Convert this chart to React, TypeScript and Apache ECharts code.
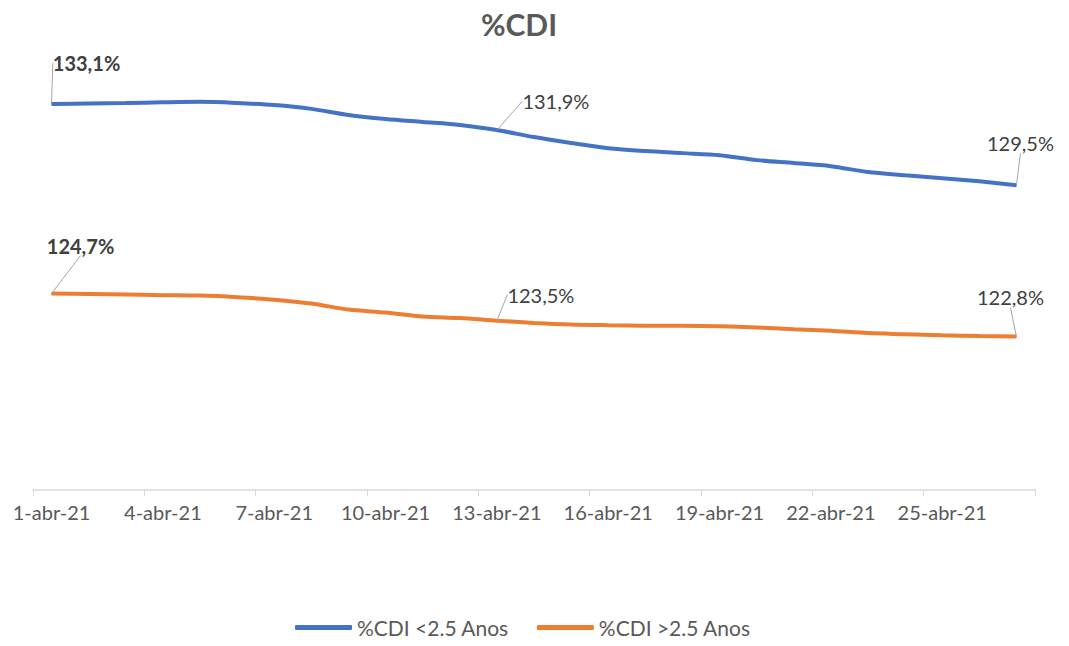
import React, { useEffect, useRef } from "react";
import * as echarts from "echarts";

const days: string[] = Array.from({ length: 27 }, (_, i) => `${i + 1}-abr-21`);

const shortTermName = "%CDI <2.5 Anos";
const longTermName = "%CDI >2.5 Anos";

const shortTerm: number[] = [
  133.1, 133.12, 133.14, 133.17, 133.19, 133.14, 133.05, 132.88, 132.61,
  132.43, 132.3, 132.17, 131.94, 131.63, 131.37, 131.14, 131.01, 130.92,
  130.83, 130.61, 130.48, 130.34, 130.08, 129.94, 129.81, 129.67, 129.5,
];

const longTerm: number[] = [
  124.7, 124.68, 124.66, 124.63, 124.61, 124.54, 124.43, 124.26, 123.99,
  123.86, 123.68, 123.62, 123.5, 123.4, 123.33, 123.3, 123.28, 123.27,
  123.25, 123.2, 123.12, 123.05, 122.95, 122.9, 122.85, 122.82, 122.8,
];

const labelledIdx: number[] = [0, 12, 26];

const fmt = (v: number) => v.toFixed(1).replace(".", ",") + "%";

export default function App() {
  const ref = useRef<HTMLDivElement>(null);
  useEffect(() => {
    if (!ref.current) return;
    const chart = echarts.init(ref.current, null, { renderer: "svg" });
    const textColor = "#595959";
    const font = "Lato";

    const mkData = (vals: number[]) =>
      vals.map((v, i) =>
        labelledIdx.includes(i)
          ? {
              value: v,
              label: {
                show: true,
                fontWeight: i === 0 ? "bold" : "normal",
              },
            }
          : v
      );

    const shortOffsets: Record<number, [number, number]> = {
      0: [35, -41],
      12: [59, -29],
      26: [4, -42],
    };
    const longOffsets: Record<number, [number, number]> = {
      0: [29, -48],
      12: [44, -26],
      26: [-6, -39],
    };

    const baseLabel = {
      show: false,
      position: "inside",
      formatter: (p: any) => fmt(p.value),
      color: "#404040",
      fontSize: 20,
      fontFamily: font,
    };

    const mkSeries = (
      name: string,
      vals: number[],
      color: string,
      offsets: Record<number, [number, number]>
    ) => ({
      name,
      type: "line",
      data: mkData(vals),
      smooth: 0.3,
      symbol: "circle",
      symbolSize: 1,
      showSymbol: true,
      showAllSymbol: true,
      color,
      itemStyle: { color },
      lineStyle: { width: 4, color },
      label: baseLabel,
      labelLine: { show: true, lineStyle: { color: "#a6a6a6", width: 1 } },
      labelLayout: (p: any) => {
        const o = offsets[p.dataIndex];
        return o ? { dx: o[0], dy: o[1] } : {};
      },
    });

    chart.setOption({
      animation: false,
      backgroundColor: "#ffffff",
      title: {
        text: "%CDI",
        left: 514,
        textAlign: "center",
        top: 4,
        textStyle: {
          color: textColor,
          fontSize: 30,
          fontWeight: "bold",
          fontFamily: font,
        },
      },
      legend: {
        bottom: 3,
        left: 290,
        itemWidth: 57,
        itemHeight: 5,
        itemGap: 28,
        icon: "roundRect",
        textStyle: {
          color: textColor,
          fontSize: 21,
          fontFamily: font,
        },
        data: [shortTermName, longTermName],
      },
      grid: { left: 33, right: 34, top: 61, bottom: 156, containLabel: false },
      xAxis: {
        type: "category",
        data: days,
        boundaryGap: true,
        axisLine: { lineStyle: { color: "#d9d9d9", width: 1.5 } },
        axisTick: {
          show: true,
          interval: 2,
          alignWithLabel: false,
          length: 6,
          lineStyle: { color: "#d9d9d9" },
        },
        axisLabel: {
          interval: 2,
          color: textColor,
          fontSize: 20,
          fontFamily: font,
          margin: 12,
        },
        splitLine: { show: false },
      },
      yAxis: {
        type: "value",
        min: 116,
        max: 135,
        show: false,
        splitLine: { show: false },
      },
      series: [
        mkSeries(shortTermName, shortTerm, "#4472C4", shortOffsets),
        mkSeries(longTermName, longTerm, "#ED7D31", longOffsets),
      ],
    });
    return () => chart.dispose();
  }, []);
  return <div ref={ref} style={{ width: 1069, height: 646, margin: -8 }} />;
}
